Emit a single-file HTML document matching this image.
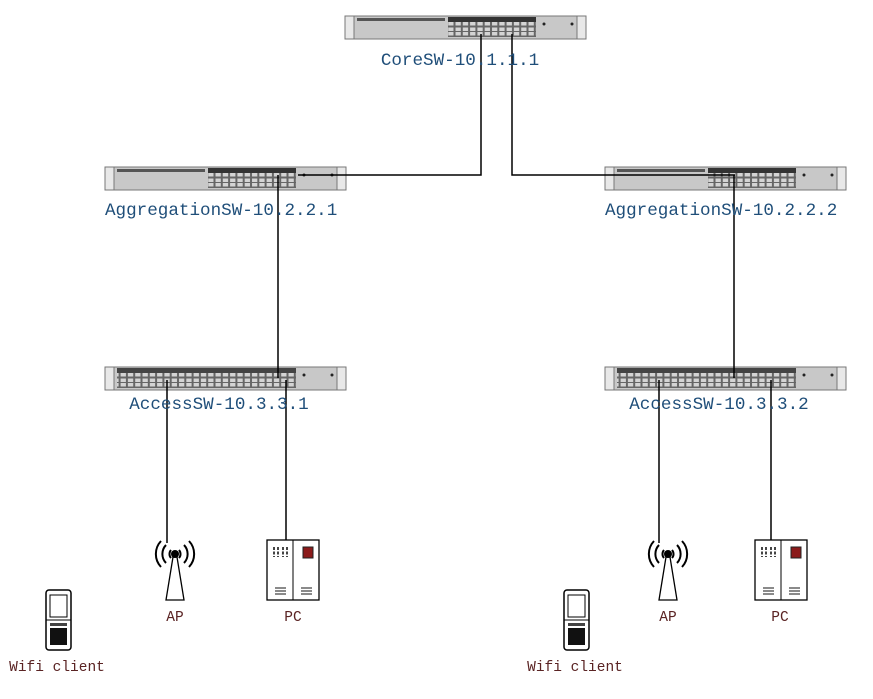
<!DOCTYPE html>
<html><head><meta charset="utf-8"><style>
body{margin:0;background:#fff}
svg{display:block}
.lbl{font-family:"Liberation Mono","Noto Serif CJK SC",monospace;font-size:17.6px;fill:#1f4e79}
.sm{font-family:"Liberation Mono","Noto Serif CJK SC",monospace;font-size:14.5px;fill:#5a2323}
</style></head><body>
<svg width="873" height="699" viewBox="0 0 873 699">
<defs>
<pattern id="ports" width="7.3" height="10" patternUnits="userSpaceOnUse">
<rect width="7.3" height="10" fill="#666"/>
<rect x="1" y="1.5" width="5.3" height="3.5" fill="#d4d4d4"/>
<rect x="1" y="6" width="5.3" height="3.5" fill="#d4d4d4"/>
</pattern>
<g id="sw24">
<rect x="0" y="0" width="241" height="23" fill="#c8c8c8" stroke="#777" stroke-width="1"/>
<rect x="0" y="0" width="9" height="23" fill="#e8e8e8" stroke="#777"/>
<rect x="232" y="0" width="9" height="23" fill="#e8e8e8" stroke="#777"/>
<rect x="12" y="2" width="88" height="3" fill="#555"/>
<rect x="103" y="1" width="88" height="5" fill="#333"/>
<rect x="103" y="6" width="88" height="15" fill="url(#ports)"/>
<circle cx="199" cy="8" r="1.5" fill="#222"/><circle cx="227" cy="8" r="1.5" fill="#222"/>
</g>
<g id="sw48">
<rect x="0" y="0" width="241" height="23" fill="#c8c8c8" stroke="#777" stroke-width="1"/>
<rect x="0" y="0" width="9" height="23" fill="#e8e8e8" stroke="#777"/>
<rect x="232" y="0" width="9" height="23" fill="#e8e8e8" stroke="#777"/>
<rect x="12" y="1" width="179" height="5" fill="#444"/>
<rect x="12" y="6" width="179" height="15" fill="url(#ports)"/>
<circle cx="199" cy="8" r="1.5" fill="#222"/><circle cx="227" cy="8" r="1.5" fill="#222"/>
</g>
<g id="ap" fill="none" stroke="#000" stroke-width="2">
<path d="M-4,-4 a6,6 0 0 0 0,8 M4,-4 a6,6 0 0 1 0,8"/>
<path d="M-9,-9 a13,13 0 0 0 0,18 M9,-9 a13,13 0 0 1 0,18"/>
<path d="M-14,-13 a19,19 0 0 0 0,26 M14,-13 a19,19 0 0 1 0,26"/>
<circle cx="0" cy="0" r="3" fill="#000"/>
<path d="M-2,3 L-9,46 L9,46 L2,3 Z" stroke-width="1.3"/>
</g>
<g id="pc">
<rect x="0" y="0" width="52" height="60" fill="#fff" stroke="#000" stroke-width="1.3"/>
<line x1="26" y1="0" x2="26" y2="60" stroke="#000"/>
<path d="M7,7v10M11,7v10M16,7v10M20,7v10" stroke="#444" stroke-width="2" stroke-dasharray="3 1.5"/>
<rect x="36" y="7" width="10" height="11" fill="#8b1a1a" stroke="#222"/>
<path d="M8,48h11M8,51h11M8,54h11M34,48h11M34,51h11M34,54h11" stroke="#444" stroke-width="1.3"/>
</g>
<g id="phone">
<rect x="0" y="0" width="25" height="60" rx="3" fill="#fff" stroke="#000" stroke-width="1.5"/>
<rect x="4" y="5" width="17" height="22" fill="#fff" stroke="#000"/>
<line x1="0" y1="30" x2="25" y2="30" stroke="#000"/>
<rect x="4" y="38" width="17" height="17" fill="#111"/>
<rect x="4" y="33" width="17" height="3" fill="#444"/>
</g>
</defs>

<use href="#sw24" x="345" y="16"/>
<use href="#sw24" x="105" y="167"/>
<use href="#sw24" x="605" y="167"/>
<use href="#sw48" x="105" y="367"/>
<use href="#sw48" x="605" y="367"/>

<g stroke="#000" stroke-width="1.5" fill="none">
<path d="M481,34 V175 H298"/>
<path d="M512,34 V175 H735"/>
<path d="M278,175 V378"/>
<path d="M734,175 V378"/>
<path d="M167,380 V543"/>
<path d="M286,380 V540"/>
<path d="M659,380 V543"/>
<path d="M771,380 V540"/>
</g>

<text class="lbl" x="460" y="65" text-anchor="middle">CoreSW-10.1.1.1</text>
<text class="lbl" x="105" y="215">AggregationSW-10.2.2.1</text>
<text class="lbl" x="605" y="215">AggregationSW-10.2.2.2</text>
<text class="lbl" x="219" y="409" text-anchor="middle">AccessSW-10.3.3.1</text>
<text class="lbl" x="719" y="409" text-anchor="middle">AccessSW-10.3.3.2</text>

<use href="#ap" x="175" y="554"/>
<use href="#ap" x="668" y="554"/>
<use href="#pc" x="267" y="540"/>
<use href="#pc" x="755" y="540"/>
<use href="#phone" x="46" y="590"/>
<use href="#phone" x="564" y="590"/>

<text class="sm" x="175" y="621" text-anchor="middle">AP</text>
<text class="sm" x="668" y="621" text-anchor="middle">AP</text>
<text class="sm" x="293" y="621" text-anchor="middle">PC</text>
<text class="sm" x="780" y="621" text-anchor="middle">PC</text>
<text class="sm" x="57" y="671" text-anchor="middle">Wifi client</text>
<text class="sm" x="575" y="671" text-anchor="middle">Wifi client</text>
</svg>
</body></html>
